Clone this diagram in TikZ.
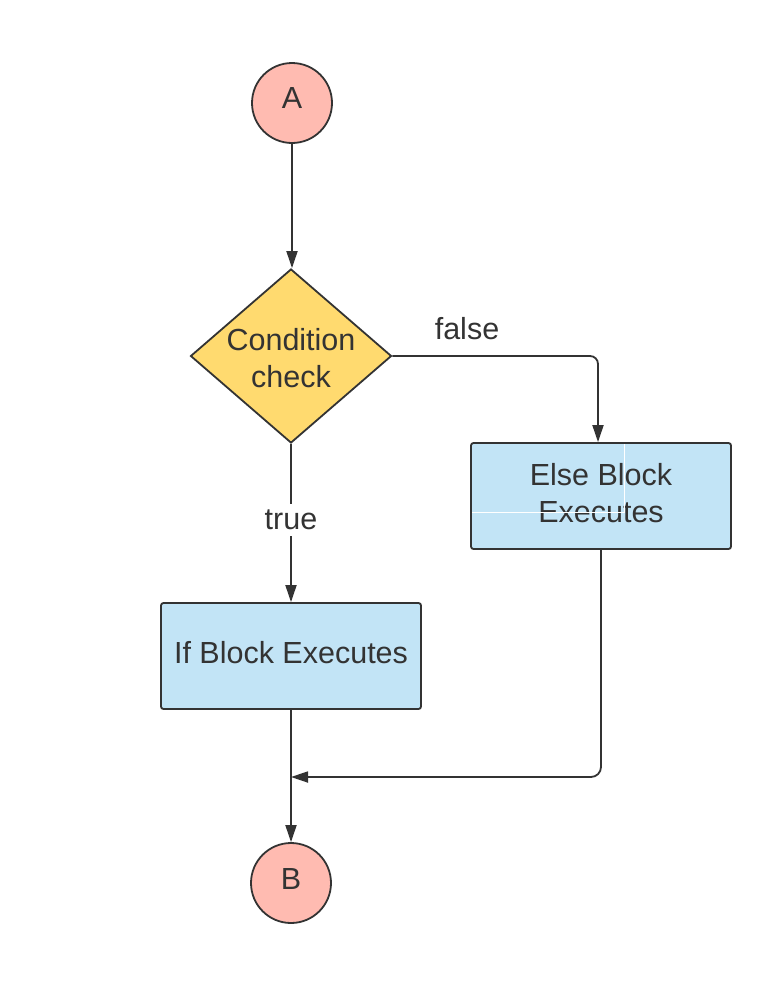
\documentclass[tikz,border=0pt]{standalone}
\usepackage{fontspec}
\setmainfont{Liberation Sans}
\usetikzlibrary{shapes.geometric,arrows.meta}
\definecolor{ink}{HTML}{333333}
\definecolor{pinkfill}{HTML}{FFBBB1}
\definecolor{yellowfill}{HTML}{FFDA6F}
\definecolor{bluefill}{HTML}{C2E4F6}
\tikzset{
  base/.style={draw=ink, line width=1.8pt, text=ink, font=\fontsize{30.5}{37}\selectfont, inner sep=0pt},
  term/.style={base, circle, fill=pinkfill, minimum size=80pt},
  decis/.style={base, diamond, fill=yellowfill, minimum width=201pt, minimum height=174pt},
  procbox/.style={base, rectangle, rounded corners=2.5pt, fill=bluefill, minimum width=260pt, minimum height=106pt, align=center},
  lbl/.style={text=ink, font=\fontsize{30.5}{37}\selectfont, align=center, inner sep=2pt},
  arr/.style={draw=ink, line width=1.8pt, -{Triangle[length=17pt,width=11pt]}}
}
\begin{document}
\begin{tikzpicture}[x=1pt,y=-1pt]
\useasboundingbox (0,0) rectangle (769,985);
\node[term] (A) at (292,103) {};
\node[lbl] (Atxt) at (292,98) {A};
\node[decis] (C) at (291,356) {};
\node[lbl] (Ctxt) at (291,358) {Condition\\check};
\node[procbox] (E) at (601,496) {};
\node[lbl] (Etxt) at (601,493) {Else Block\\Executes};
\node[procbox] (I) at (291,656) {};
\node[lbl] (Itxt) at (291,653) {If Block Executes};
\node[term] (B) at (291,883) {};
\node[lbl] (Btxt) at (291,879) {B};
\coordinate (M) at (291,777);
\node[lbl] (F) at (467,329) {false};
% artifact white lines in else box
\draw[white, line width=0.8pt] (624,444) -- (624,512) -- (472,512);
\draw[arr] (A) -- (A |- C.north);
\draw[arr, rounded corners=8pt] (C.east) -| ([xshift=-3pt]E.north);
\draw[arr] (C.south) -- node[pos=0.48, fill=white, lbl, inner ysep=6pt] (T) {true} (C.south |- I.north);
\draw[arr] (I) -- (B);
\draw[arr, rounded corners=10pt] (E.south) |- (M);
\end{tikzpicture}
\end{document}
